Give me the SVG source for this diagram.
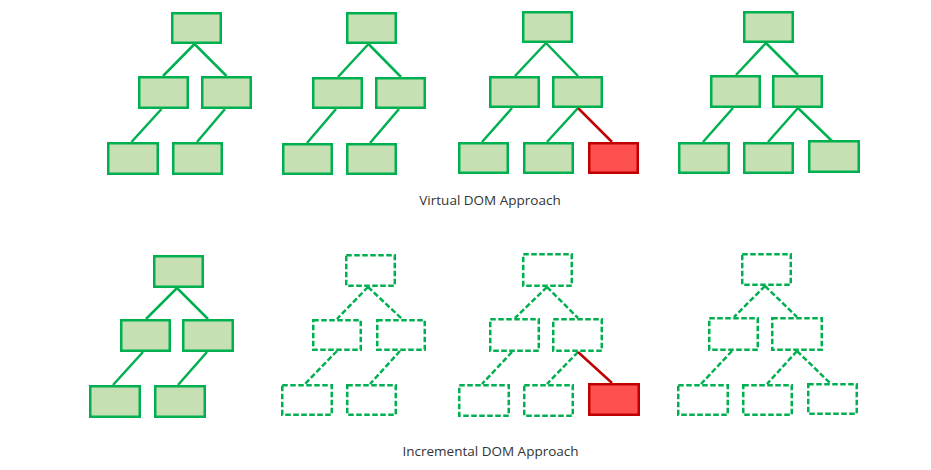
<svg xmlns="http://www.w3.org/2000/svg" width="931" height="470" viewBox="0 0 931 470">
<style>
.n{fill:#C6E0B4;stroke:#00B050;stroke-width:2.5}
.d{fill:#FFFFFF;stroke:#00B050;stroke-width:2.5;stroke-dasharray:5.5 2.5}
.r{fill:#FF5050;stroke:#C00000;stroke-width:2.5}
.c{stroke:#00B050;stroke-width:2.5;fill:none}
.cd{stroke:#00B050;stroke-width:2.5;fill:none;stroke-dasharray:5.5 2.5}
.cr{stroke:#C00000;stroke-width:2.5;fill:none}
.lbl{font-family:"Open Sans","Noto Sans","Liberation Sans",sans-serif;font-size:13.5px;fill:#333333;text-anchor:middle}
</style>
<rect width="931" height="470" fill="#FFFFFF"/>
<g id="connectors">
<line class="c" x1="194.5" y1="44" x2="163" y2="76"/>
<line class="c" x1="194.5" y1="44" x2="226.5" y2="76"/>
<line class="c" x1="161.5" y1="109" x2="131.5" y2="142"/>
<line class="c" x1="225" y1="109" x2="197" y2="142"/>
<line class="c" x1="368.5" y1="44" x2="338" y2="77"/>
<line class="c" x1="368.5" y1="44" x2="401" y2="77"/>
<line class="c" x1="336" y1="109" x2="307" y2="143"/>
<line class="c" x1="399" y1="109" x2="370" y2="143"/>
<line class="c" x1="546" y1="43" x2="515" y2="76"/>
<line class="c" x1="546" y1="43" x2="578" y2="76"/>
<line class="c" x1="512" y1="108" x2="482" y2="142"/>
<line class="c" x1="578" y1="108" x2="547" y2="142"/>
<line class="cr" x1="578" y1="108" x2="612" y2="142"/>
<line class="c" x1="766" y1="43" x2="736" y2="75"/>
<line class="c" x1="766" y1="43" x2="798" y2="75"/>
<line class="c" x1="733" y1="108" x2="703" y2="142"/>
<line class="c" x1="798" y1="108" x2="768" y2="142"/>
<line class="c" x1="798" y1="108" x2="832" y2="141"/>
<line class="c" x1="177" y1="288" x2="146" y2="319"/>
<line class="c" x1="177" y1="288" x2="208" y2="319"/>
<line class="c" x1="143" y1="352" x2="113" y2="385"/>
<line class="c" x1="207" y1="352" x2="178" y2="385"/>
<line class="cd" x1="368" y1="287" x2="337" y2="319"/>
<line class="cd" x1="368" y1="287" x2="402" y2="319"/>
<line class="cd" x1="337" y1="351" x2="305" y2="384"/>
<line class="cd" x1="400" y1="351" x2="370" y2="384"/>
<line class="cd" x1="547" y1="287" x2="515" y2="318"/>
<line class="cd" x1="547" y1="287" x2="578" y2="318"/>
<line class="cd" x1="512" y1="352" x2="482" y2="384"/>
<line class="cd" x1="578" y1="352" x2="547" y2="384"/>
<line class="cr" x1="578" y1="352" x2="612" y2="383"/>
<line class="cd" x1="765" y1="286" x2="734" y2="317"/>
<line class="cd" x1="765" y1="286" x2="797" y2="317"/>
<line class="cd" x1="732" y1="351" x2="701" y2="384"/>
<line class="cd" x1="797" y1="351" x2="767" y2="384"/>
<line class="cd" x1="797" y1="351" x2="830" y2="383"/>
</g>
<g id="t1-root"><rect class="n" x="172.25" y="13.25" width="48.5" height="29.5"/></g>
<g id="t1-ml"><rect class="n" x="139.25" y="77.25" width="48.5" height="30.5"/></g>
<g id="t1-mr"><rect class="n" x="202.25" y="77.25" width="48.5" height="30.5"/></g>
<g id="t1-bl"><rect class="n" x="108.25" y="143.25" width="49.5" height="30.5"/></g>
<g id="t1-br"><rect class="n" x="173.25" y="143.25" width="48.5" height="30.5"/></g>
<g id="t2-root"><rect class="n" x="347.25" y="13.25" width="48.5" height="29.5"/></g>
<g id="t2-ml"><rect class="n" x="313.25" y="78.25" width="48.5" height="29.5"/></g>
<g id="t2-mr"><rect class="n" x="376.25" y="78.25" width="48.5" height="29.5"/></g>
<g id="t2-bl"><rect class="n" x="283.25" y="144.25" width="48.5" height="29.5"/></g>
<g id="t2-br"><rect class="n" x="347.25" y="144.25" width="48.5" height="29.5"/></g>
<g id="t3-root"><rect class="n" x="523.25" y="12.25" width="48.5" height="29.5"/></g>
<g id="t3-ml"><rect class="n" x="490.25" y="77.25" width="48.5" height="29.5"/></g>
<g id="t3-mr"><rect class="n" x="553.25" y="77.25" width="48.5" height="29.5"/></g>
<g id="t3-bl"><rect class="n" x="459.25" y="143.25" width="48.5" height="29.5"/></g>
<g id="t3-bm"><rect class="n" x="524.25" y="143.25" width="48.5" height="29.5"/></g>
<g id="t3-new"><rect class="r" x="589.25" y="143.25" width="48.5" height="29.5"/></g>
<g id="t4-root"><rect class="n" x="744.25" y="12.25" width="48.5" height="29.5"/></g>
<g id="t4-ml"><rect class="n" x="711.25" y="76.25" width="48.5" height="30.5"/></g>
<g id="t4-mr"><rect class="n" x="773.25" y="76.25" width="48.5" height="30.5"/></g>
<g id="t4-bl"><rect class="n" x="679.25" y="143.25" width="49.5" height="29.5"/></g>
<g id="t4-bm"><rect class="n" x="744.25" y="143.25" width="48.5" height="29.5"/></g>
<g id="t4-br"><rect class="n" x="809.25" y="141.25" width="49.5" height="30.5"/></g>
<g id="b1-root"><rect class="n" x="154.25" y="256.25" width="48.5" height="30.5"/></g>
<g id="b1-ml"><rect class="n" x="121.25" y="320.25" width="48.5" height="30.5"/></g>
<g id="b1-mr"><rect class="n" x="183.25" y="320.25" width="49.5" height="30.5"/></g>
<g id="b1-bl"><rect class="n" x="90.25" y="386.25" width="49.5" height="30.5"/></g>
<g id="b1-br"><rect class="n" x="155.25" y="386.25" width="49.5" height="30.5"/></g>
<g id="b2-root"><rect class="d" x="346.25" y="255.25" width="48.5" height="30.5"/></g>
<g id="b2-ml"><rect class="d" x="313.25" y="320.25" width="47.5" height="29.5"/></g>
<g id="b2-mr"><rect class="d" x="377.25" y="320.25" width="47.5" height="29.5"/></g>
<g id="b2-bl"><rect class="d" x="282.25" y="385.25" width="49.5" height="29.5"/></g>
<g id="b2-br"><rect class="d" x="347.25" y="385.25" width="48.5" height="29.5"/></g>
<g id="b3-root"><rect class="d" x="523.25" y="254.25" width="48.5" height="31.5"/></g>
<g id="b3-ml"><rect class="d" x="490.25" y="319.25" width="48.5" height="31.5"/></g>
<g id="b3-mr"><rect class="d" x="553.25" y="319.25" width="48.5" height="31.5"/></g>
<g id="b3-bl"><rect class="d" x="459.25" y="385.25" width="49.5" height="30.5"/></g>
<g id="b3-bm"><rect class="d" x="524.25" y="385.25" width="48.5" height="30.5"/></g>
<g id="b3-new"><rect class="r" x="589.25" y="384.25" width="49.5" height="30.5"/></g>
<g id="b4-root"><rect class="d" x="742.25" y="254.25" width="48.5" height="30.5"/></g>
<g id="b4-ml"><rect class="d" x="709.25" y="318.25" width="48.5" height="31.5"/></g>
<g id="b4-mr"><rect class="d" x="772.25" y="318.25" width="49.5" height="31.5"/></g>
<g id="b4-bl"><rect class="d" x="678.25" y="385.25" width="49.5" height="29.5"/></g>
<g id="b4-bm"><rect class="d" x="743.25" y="385.25" width="48.5" height="29.5"/></g>
<g id="b4-br"><rect class="d" x="808.25" y="384.25" width="48.5" height="29.5"/></g>
<g id="labels">
<text class="lbl" x="490" y="205">Virtual DOM Approach</text>
<text class="lbl" x="490.5" y="456">Incremental DOM Approach</text>
</g>
</svg>
